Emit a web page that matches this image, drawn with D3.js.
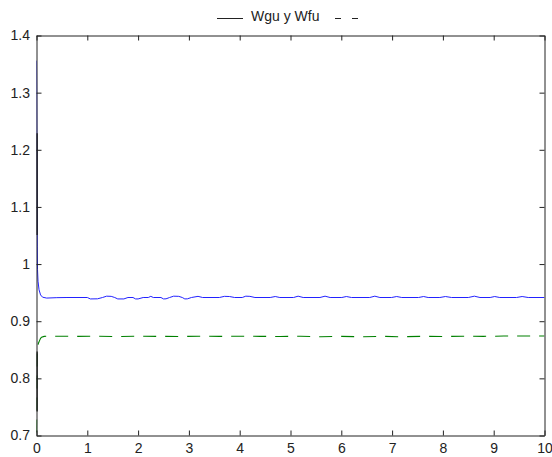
<!DOCTYPE html>
<html>
<head>
<meta charset="utf-8">
<script src="https://cdn.jsdelivr.net/npm/d3@7"></script>
<style>
  html, body { margin: 0; padding: 0; background: #fff; }
  svg { display: block; }
  text { font-family: "Liberation Sans", Arial, sans-serif; fill: #222; }
</style>
</head>
<body>
<svg id="chart" width="552" height="457"></svg>
<script>
// ---- data ----
const titleText = "Wgu y Wfu";
const xTicks = [0, 1, 2, 3, 4, 5, 6, 7, 8, 9, 10];
const yTicks = [0.7, 0.8, 0.9, 1.0, 1.1, 1.2, 1.3, 1.4];
const yTickLabels = ["0.7", "0.8", "0.9", "1", "1.1", "1.2", "1.3", "1.4"];

// Wgu (blue, solid)
const wguT = [0, 0.004, 0.008, 0.012, 0.016, 0.02, 0.03, 0.05, 0.08, 0.12, 0.2, 0.4, 0.6, 1.0, 1.06, 1.2, 1.3, 1.38, 1.47, 1.54,
  1.6, 1.72, 1.8, 1.9, 1.95, 2.0, 2.1, 2.2, 2.25, 2.3, 2.45, 2.5, 2.55, 2.62, 2.7, 2.8, 2.87, 2.92, 2.97, 3.05,
  3.18, 3.27, 3.6, 3.7, 3.8, 3.9, 4.05, 4.12, 4.2, 4.3, 4.6, 4.7, 4.79, 5.06, 5.15, 5.25, 5.58, 5.68, 5.78, 6.01,
  6.1, 6.2, 6.56, 6.66, 6.76, 6.99, 7.09, 7.19, 7.52, 7.62, 7.71, 7.94, 8.05, 8.17, 8.5, 8.62, 8.73, 8.93, 9.02, 9.12,
  9.45, 9.56, 9.68, 10];
const wguV = [1.356, 1.30, 1.20, 1.10, 1.03, 0.99, 0.97, 0.955, 0.946, 0.942, 0.9405, 0.9412, 0.9415, 0.9415, 0.9390, 0.9392, 0.9415, 0.9438, 0.9435, 0.9415,
  0.9390, 0.9390, 0.9415, 0.9415, 0.9390, 0.9390, 0.9415, 0.9415, 0.9435, 0.9415, 0.9415, 0.9390, 0.9392, 0.9415, 0.9438, 0.9435, 0.9415, 0.9390, 0.9392, 0.9415,
  0.9435, 0.9415, 0.9415, 0.9435, 0.9432, 0.9415, 0.9415, 0.9438, 0.9435, 0.9415, 0.9415, 0.9432, 0.9415, 0.9415, 0.9438, 0.9415, 0.9415, 0.9438, 0.9415, 0.9415,
  0.9432, 0.9415, 0.9415, 0.9438, 0.9415, 0.9415, 0.9432, 0.9415, 0.9415, 0.9432, 0.9415, 0.9415, 0.9432, 0.9415, 0.9415, 0.9438, 0.9415, 0.9415, 0.9432, 0.9415,
  0.9415, 0.9432, 0.9415, 0.9415];

// Wfu (green, dashed)
const wfuT = [0, 0.004, 0.008, 0.012, 0.02, 0.04, 0.06, 0.08, 0.1, 0.15, 0.3, 0.8, 1.2, 1.6, 2.0, 2.4, 2.8, 3.2, 3.6, 4.0,
  4.4, 4.8, 5.2, 5.6, 6.0, 6.4, 6.8, 7.2, 7.6, 8.0, 8.4, 8.8, 9.2, 9.6, 10];
const wfuV = [0.70, 0.74, 0.80, 0.845, 0.855, 0.862, 0.866, 0.870, 0.872, 0.8735, 0.8738, 0.8735, 0.8738, 0.8732, 0.8738, 0.8735, 0.8732, 0.8738, 0.8735, 0.8738,
  0.8735, 0.8732, 0.8738, 0.8728, 0.8735, 0.8728, 0.8735, 0.8728, 0.8735, 0.8732, 0.8738, 0.8735, 0.8740, 0.8742, 0.8742];

// dark initial transient segments drawn over both curves at t≈0
const darkAT = [0.005, 0.005];
const darkAV = [1.229, 1.051];
const darkBT = [0.005, 0.005];
const darkBV = [0.847, 0.742];

// ---- drawing ----
const svg = d3.select("#chart");
const x = d3.scaleLinear().domain([0, 10]).range([36.5, 544.5]);
const y = d3.scaleLinear().domain([0.7, 1.4]).range([435.5, 35.5]);

svg.append("rect").attr("width", 552).attr("height", 457).attr("fill", "#fff");

svg.append("clipPath").attr("id", "clip")
  .append("rect").attr("x", 36.5).attr("y", 35.5).attr("width", 508).attr("height", 400);

const line = d3.line().x(d => x(d[0])).y(d => y(d[1]));
const plot = svg.append("g").attr("clip-path", "url(#clip)");

plot.append("path").datum(d3.zip(wguT, wguV))
  .attr("d", line).attr("fill", "none").attr("stroke", "#2222ff").attr("stroke-width", 1);
plot.append("path").datum(d3.zip(wfuT, wfuV))
  .attr("d", line).attr("fill", "none").attr("stroke", "#008000").attr("stroke-width", 1.1)
  .attr("stroke-dasharray", "13,9").attr("stroke-dashoffset", "-3");
plot.append("path").datum(d3.zip(darkAT, darkAV))
  .attr("d", line).attr("fill", "none").attr("stroke", "#111").attr("stroke-width", 2);
plot.append("path").datum(d3.zip(darkBT, darkBV))
  .attr("d", line).attr("fill", "none").attr("stroke", "#111").attr("stroke-width", 2);

// axes (box with inward ticks)
const fmtY = d => yTickLabels[yTicks.indexOf(d)];
const axB = svg.append("g").attr("transform", "translate(0,435.5)")
  .call(d3.axisBottom(x).tickValues(xTicks).tickSizeInner(-5).tickSizeOuter(0).tickPadding(8).tickFormat(d3.format("d")));
const axT = svg.append("g").attr("transform", "translate(0,35.5)")
  .call(d3.axisTop(x).tickValues(xTicks).tickSizeInner(-5).tickSizeOuter(0).tickFormat(""));
const axL = svg.append("g").attr("transform", "translate(36.5,0)")
  .call(d3.axisLeft(y).tickValues(yTicks).tickSizeInner(-5).tickSizeOuter(0).tickPadding(6.5).tickFormat(fmtY));
const axR = svg.append("g").attr("transform", "translate(544.5,0)")
  .call(d3.axisRight(y).tickValues(yTicks).tickSizeInner(-5).tickSizeOuter(0).tickFormat(""));

[axB, axT, axL, axR].forEach(a => {
  a.selectAll(".domain").attr("stroke", "#222");
  a.selectAll(".tick line").attr("stroke", "#222");
  a.selectAll("text").attr("font-size", 14).attr("font-family", "Liberation Sans, Arial, sans-serif").attr("fill", "#222");
});

// title / legend-like header
const title = svg.append("g");
title.append("line").attr("x1", 217).attr("x2", 243).attr("y1", 18.5).attr("y2", 18.5)
  .attr("stroke", "#222").attr("stroke-width", 1);
title.append("text").attr("x", 251).attr("y", 21).attr("font-size", 14).text(titleText);
title.append("line").attr("x1", 335).attr("x2", 341).attr("y1", 18.5).attr("y2", 18.5)
  .attr("stroke", "#222").attr("stroke-width", 1);
title.append("line").attr("x1", 352).attr("x2", 358).attr("y1", 18.5).attr("y2", 18.5)
  .attr("stroke", "#222").attr("stroke-width", 1);
</script>
</body>
</html>
